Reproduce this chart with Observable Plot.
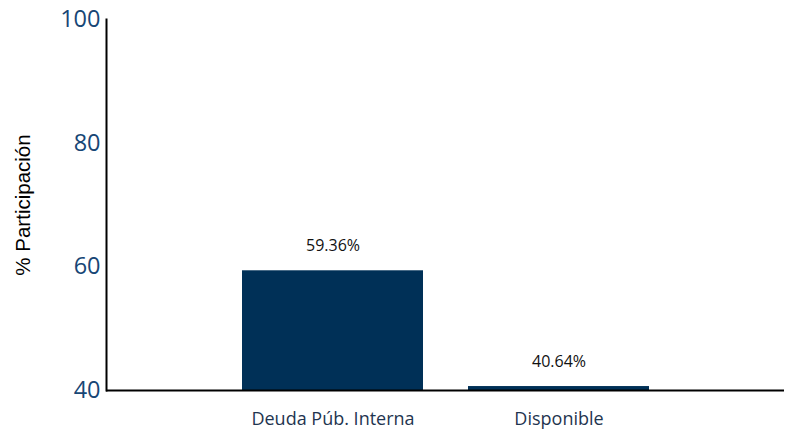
<!DOCTYPE html>
<html>
<head>
<meta charset="utf-8">
<script src="https://cdn.jsdelivr.net/npm/d3@7"></script>
<script src="https://cdn.jsdelivr.net/npm/@observablehq/plot@0.6"></script>
<style>
  html, body { margin: 0; padding: 0; background: #fff; }
  #chart svg { display: block; }
  g[aria-label="y-axis tick label"] text { font-size: 23.5px; fill: #174675; font-family: "Open Sans", sans-serif; }
  g[aria-label="x-axis tick label"] text { font-size: 18px; fill: #1f3550; font-family: "Open Sans", sans-serif; }
  g[aria-label="y-axis label"] text { font-size: 20.5px; fill: #000; font-family: "Liberation Sans", Arial, sans-serif; }
</style>
</head>
<body>
<div id="chart"></div>
<script>
const categories = ["Deuda Púb. Interna", "Disponible"];
const values = [59.36, 40.64];
const labels = ["59.36%", "40.64%"];
const yTicks = [40, 60, 80, 100];

const data = categories.map((c, i) => ({cat: c, value: values[i], label: labels[i]}));

const chart = Plot.plot({
  width: 797,
  height: 436,
  marginLeft: 106,
  marginRight: 13,
  marginTop: 19,
  marginBottom: 46,
  style: {fontFamily: "Open Sans, sans-serif", background: "#fff"},
  x: {domain: categories, paddingInner: 0.2, paddingOuter: 0.6, label: null},
  y: {domain: [40, 100], label: null},
  marks: [
    Plot.barY(data, {x: "cat", y1: 40, y2: "value", fill: "#003057"}),
    Plot.text(data, {x: "cat", y: "value", text: "label", dy: -25, fontSize: 16, fill: "#111", fontFamily: "Open Sans, sans-serif"}),
    Plot.axisY({ticks: yTicks, tickSize: 0, tickPadding: 6, label: "% Participación", labelAnchor: "center", labelOffset: 91, labelArrow: "none"}),
    Plot.axisX({tickSize: 0, tickPadding: 22, label: null}),
    Plot.frame({anchor: "left", stroke: "#000", strokeWidth: 2}),
    Plot.ruleY([40], {stroke: "#000", strokeWidth: 2})
  ]
});
document.getElementById("chart").appendChild(chart);
</script>
</body>
</html>
